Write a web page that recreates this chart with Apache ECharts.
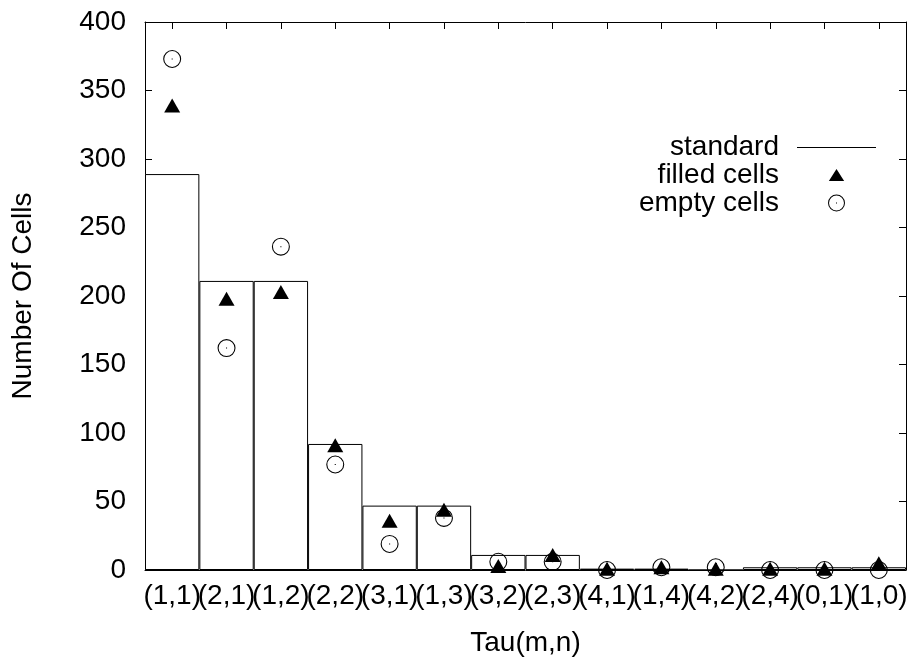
<!DOCTYPE html>
<html>
<head>
<meta charset="utf-8">
<script src="https://cdn.jsdelivr.net/npm/echarts@6/dist/echarts.min.js"></script>
<style>
  html, body { margin: 0; padding: 0; background: #fff; }
  #chart { width: 914px; height: 667px; }
</style>
</head>
<body>
<div id="chart"></div>
<script>
// Tau(m,n) categories and the three data sets
const categories = ['(1,1)', '(2,1)', '(1,2)', '(2,2)', '(3,1)', '(1,3)', '(3,2)', '(2,3)', '(4,1)', '(1,4)', '(4,2)', '(2,4)', '(0,1)', '(1,0)'];
const standard = [289, 211, 211, 92, 47, 47, 11, 11, 1, 1, 0, 2, 2, 2];
const filledCells = [339, 198, 203, 91, 36, 44, 3, 11, 1, 2, 1, 1, 1, 5];
const emptyCells = [373, 162, 236, 77, 19, 38, 6, 6, 0, 2, 2, 0, 0, 0];
const yTicks = [0, 50, 100, 150, 200, 250, 300, 350, 400];

const FONT = 'Liberation Sans, Arial, Helvetica, sans-serif';
const FS = 28;

// circle with a dot in the middle
const circleDot = 'path://M10,0A10,10,0,1,1,10,20A10,10,0,1,1,10,0Z' +
  'M10,1.2A8.8,8.8,0,1,0,10,18.8A8.8,8.8,0,1,0,10,1.2Z' +
  'M9.4,9.4H10.6V10.6H9.4Z';
// legend icons padded with tiny corner points so their box is fixed
const triPadded = 'path://M0,0L0.01,0L0,0.01Z M20,20L19.99,20L20,19.99Z M10,3L19,17H1Z';
const linePath = 'path://M0,0L0.01,0L0,0.01Z M79,17L78.99,17L79,16.99Z M0,8.5H79V9.5H0Z';

const chart = echarts.init(document.getElementById('chart'), null, { renderer: 'canvas' });

const axisLine = { show: true, onZero: false, lineStyle: { color: '#000', width: 1 } };
const tickIn = { show: true, inside: true, length: 7, lineStyle: { color: '#000', width: 1 } };

const option = {
  animation: false,
  backgroundColor: '#fff',
  textStyle: { fontFamily: FONT, color: '#000' },
  grid: { left: 145, right: 8, top: 22, bottom: 97, containLabel: false },
  legend: {
    orient: 'vertical',
    align: 'right',
    right: 33,
    top: 128,
    itemWidth: 79,
    itemHeight: 17,
    itemGap: 0,
    symbolKeepAspect: true,
    textStyle: { fontFamily: FONT, fontSize: FS, color: '#000', padding: [0, 13, 0, 0] },
    data: [
      { name: 'standard', icon: linePath, itemStyle: { color: '#000', borderWidth: 0, opacity: 1 } },
      { name: 'filled cells', icon: triPadded, itemStyle: { color: '#000', borderWidth: 0, opacity: 1 } },
      { name: 'empty cells', icon: circleDot, itemStyle: { color: '#000', borderWidth: 0, opacity: 1 } }
    ]
  },
  xAxis: [
    {
      type: 'category',
      data: categories,
      boundaryGap: true,
      axisLine: axisLine,
      axisTick: Object.assign({ alignWithLabel: true }, tickIn),
      axisLabel: { interval: 0, fontFamily: FONT, fontSize: FS, color: '#000', margin: 12 },
      splitLine: { show: false },
      name: 'Tau(m,n)',
      nameLocation: 'middle',
      nameGap: 59,
      nameTextStyle: { fontFamily: FONT, fontSize: FS, color: '#000' }
    },
    {
      type: 'category',
      data: categories,
      position: 'top',
      boundaryGap: true,
      axisLine: axisLine,
      axisTick: Object.assign({ alignWithLabel: true }, tickIn),
      axisLabel: { show: false },
      splitLine: { show: false }
    }
  ],
  yAxis: [
    {
      type: 'value',
      min: yTicks[0],
      max: yTicks[yTicks.length - 1],
      interval: 50,
      axisLine: axisLine,
      axisTick: tickIn,
      axisLabel: { fontFamily: FONT, fontSize: FS, color: '#000', margin: 19 },
      splitLine: { show: false },
      name: 'Number Of Cells',
      nameLocation: 'middle',
      nameGap: 108,
      nameRotate: 90,
      nameTextStyle: { fontFamily: FONT, fontSize: FS, color: '#000' }
    },
    {
      type: 'value',
      position: 'right',
      min: yTicks[0],
      max: yTicks[yTicks.length - 1],
      interval: 50,
      axisLine: axisLine,
      axisTick: tickIn,
      axisLabel: { show: false },
      splitLine: { show: false }
    }
  ],
  series: [
    {
      name: 'standard',
      type: 'bar',
      data: standard,
      barCategoryGap: '0%',
      itemStyle: { color: '#fff', borderColor: '#000', borderWidth: 1, opacity: 1 },
      z: 1
    },
    {
      name: 'filled cells',
      type: 'scatter',
      data: filledCells,
      symbol: 'triangle',
      symbolSize: [16, 14],
      itemStyle: { color: '#000', opacity: 1 },
      z: 3
    },
    {
      name: 'empty cells',
      type: 'scatter',
      data: emptyCells,
      symbol: circleDot,
      symbolSize: 18,
      itemStyle: { color: '#000', opacity: 1 },
      z: 2
    }
  ]
};

chart.setOption(option);
</script>
</body>
</html>
